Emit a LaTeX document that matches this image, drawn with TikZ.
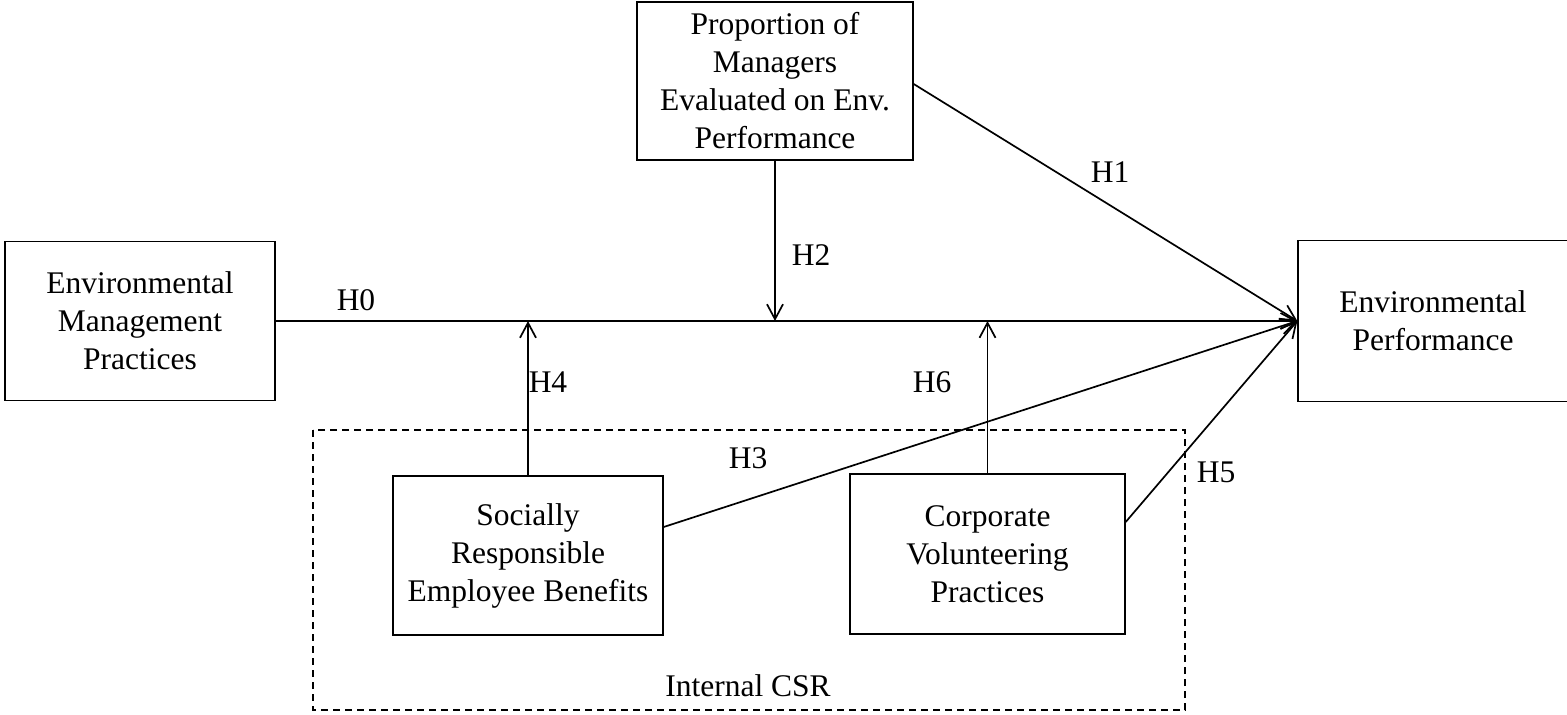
\documentclass[tikz,border=0pt]{standalone}
\usepackage{fontspec}
\setmainfont{Liberation Serif}
\usetikzlibrary{arrows.meta,calc}
\begin{document}
\begin{tikzpicture}[x=1pt,y=-1pt,
  every node/.style={font=\fontsize{31.5}{38}\selectfont},
  box/.style={draw,line width=1.4pt,inner sep=0pt,align=center},
  conn/.style={line width=1.7pt,-{Straight Barb[length=15pt,width=16pt,line width=1.7pt]}},
  lbl/.style={inner sep=0pt}
]
\useasboundingbox (0,0) rectangle (1567,715);
\draw[line width=1.2pt,dash pattern=on 7pt off 5pt] (313,430) rectangle (1185,710);
\node[box,minimum width=270pt,minimum height=159pt] (EMP) at (140,321) {Environmental\\Management\\Practices};
\node[box,minimum width=276pt,minimum height=158pt] (PROP) at (775,81) {Proportion of\\Managers\\Evaluated on Env.\\Performance};
\node[box,minimum width=270pt,minimum height=161pt] (EP) at (1433,321) {Environmental\\Performance};
\node[box,minimum width=270pt,minimum height=159pt] (SREB) at (528,555.5) {Socially\\Responsible\\Employee Benefits};
\node[box,minimum width=275pt,minimum height=160pt] (CVP) at (987.5,554) {Corporate\\Volunteering\\Practices};
\draw[conn] (EMP.east) -- (EMP.east -| EP.west);
\draw[conn] (PROP.south) -- (PROP.south |- EMP.east);
\draw[conn] (SREB.north) -- (SREB.north |- EMP.east);
\draw[conn] (CVP.north) -- (CVP.north |- EMP.east);
\draw[conn] ([yshift=-3pt]PROP.east) -- (EP.west);
\draw[conn] ([yshift=28.5pt]SREB.east) -- (EP.west);
\draw[conn] ([yshift=32pt]CVP.east) -- (EP.west);
\node[lbl] (h0) at (356,300) {H0};
\node[lbl] (h1) at (1110,172) {H1};
\node[lbl] (h2) at (811,255) {H2};
\node[lbl] (h3) at (748,458) {H3};
\node[lbl] (h4) at (548,382) {H4};
\node[lbl] (h5) at (1216,472) {H5};
\node[lbl] (h6) at (932,382) {H6};
\node[lbl] (csr) at (748,686) {Internal CSR};
\end{tikzpicture}
\end{document}
